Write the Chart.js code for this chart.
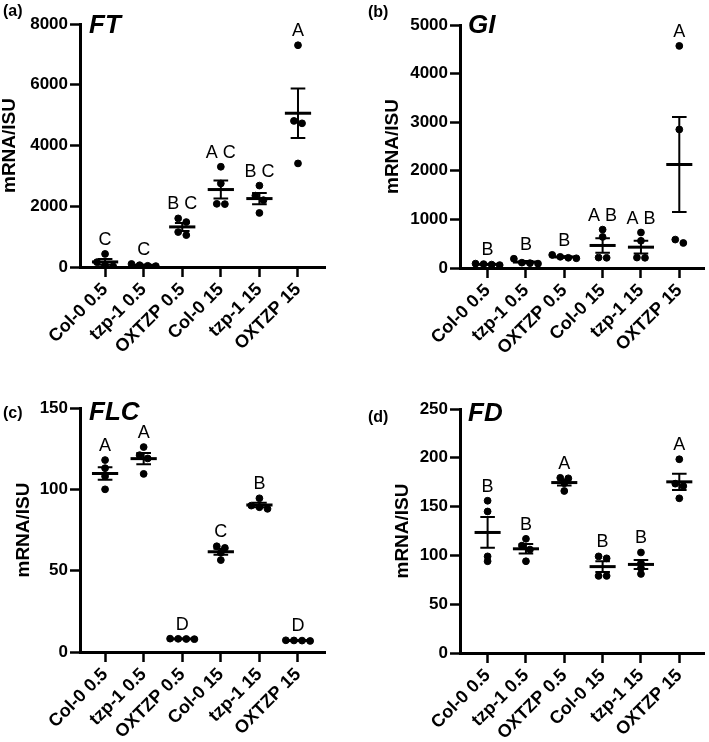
<!DOCTYPE html>
<html>
<head>
<meta charset="utf-8">
<script src="https://cdn.jsdelivr.net/npm/chart.js@4.4.1/dist/chart.umd.min.js"></script>
<style>
  body { margin: 0; background: #fff; }
  #wrap { position: relative; width: 709px; height: 742px; font-family: "Liberation Sans", Arial, sans-serif; color: #000; }
  .panel { position: absolute; width: 354px; height: 371px; }
  .tag { position: absolute; font-weight: bold; font-size: 16px; line-height: 1; }
  .gene { position: absolute; font-weight: bold; font-style: italic; font-size: 26px; line-height: 1; }
</style>
</head>
<body>
<div id="wrap">
  <div class="panel" style="left:0;top:0"><canvas id="chartFT"></canvas></div>
  <div class="panel" style="left:355px;top:0"><canvas id="chartGI"></canvas></div>
  <div class="panel" style="left:0;top:371px"><canvas id="chartFLC"></canvas></div>
  <div class="panel" style="left:355px;top:371px"><canvas id="chartFD"></canvas></div>

  <div class="tag" style="left:3px;top:3px">(a)</div>
  <div class="gene" style="left:89px;top:11px">FT</div>
  <div class="tag" style="left:368px;top:4px">(b)</div>
  <div class="gene" style="left:468px;top:11px">GI</div>
  <div class="tag" style="left:3px;top:405px">(c)</div>
  <div class="gene" style="left:89px;top:398px">FLC</div>
  <div class="tag" style="left:368px;top:409px">(d)</div>
  <div class="gene" style="left:468px;top:399px">FD</div>
</div>

<script>
const groups = ['Col-0 0.5', 'tzp-1 0.5', 'OXTZP 0.5', 'Col-0 15', 'tzp-1 15', 'OXTZP 15'];

// individual replicates per group
const ftValues = [[430, 160, 60, 20], [100, 60, 40, 30], [1600, 1480, 1150, 1050],
                  [3300, 2750, 2080, 2070], [2680, 2350, 2200, 1780], [7300, 4810, 4730, 3410]];
const giValues = [[90, 80, 70, 60], [190, 110, 100, 90], [270, 230, 210, 200],
                  [790, 640, 215, 210], [730, 560, 215, 210], [4570, 2850, 585, 515]];
const flcValues = [[118, 113, 108, 100], [126, 121, 119, 109.5], [8.2, 8.1, 8.0, 7.9],
                   [65, 64, 61, 56.5], [94.5, 90, 89, 88], [7.2, 7.1, 7.0, 6.8]];
const fdValues = [[156, 145, 99, 94], [117, 110, 106, 94], [179.5, 179, 174, 166],
                  [99, 97, 79, 79], [103, 92, 87, 81], [198.5, 173.5, 171, 158.5]];

// significance letters
const ftLetters = ['C', 'C', 'B C', 'A C', 'B C', 'A'];
const giLetters = ['B', 'B', 'B', 'A B', 'A B', 'A'];
const flcLetters = ['A', 'A', 'D', 'C', 'B', 'D'];
const fdLetters = ['B', 'B', 'A', 'B', 'B', 'A'];

// y axis ranges: min, max, step
const ftAxis = [0, 8000, 2000];
const giAxis = [0, 5000, 1000];
const flcAxis = [0, 150, 50];
const fdAxis = [0, 250, 50];

const FONT = '"Liberation Sans", Arial, sans-serif';

function mean(a) {
    return a.reduce((s, v) => s + v, 0) / a.length;
}

function sem(a) {
    const m = mean(a);
    const sd = Math.sqrt(a.reduce((s, v) => s + (v - m) * (v - m), 0) / (a.length - 1));
    return sd / Math.sqrt(a.length);
}

// spread points that would overlap side by side, like a scatter dot plot
function dotPoints(values, yMax) {
    const pts = [];
    const thr = yMax * 0.02;
    values.forEach((vals, i) => {
        const sorted = [...vals].sort((a, b) => b - a);
        let cluster = [sorted[0]];
        const flush = () => {
            cluster.forEach((v, k) => pts.push({ x: i + (k - (cluster.length - 1) / 2) * 0.21, y: v }));
        };
        for (let k = 1; k < sorted.length; k++) {
            if (cluster[cluster.length - 1] - sorted[k] < thr) {
                cluster.push(sorted[k]);
            } else {
                flush();
                cluster = [sorted[k]];
            }
        }
        flush();
    });
    return pts;
}

function summaryPlugin(values, letters) {
    return {
        id: 'summary',
        afterDatasetsDraw(chart) {
            const { ctx, scales: { x, y } } = chart;
            ctx.save();
            ctx.strokeStyle = '#000';
            ctx.fillStyle = '#000';
            values.forEach((vals, i) => {
                const m = mean(vals), s = sem(vals);
                const cx = x.getPixelForValue(i);
                const halfMean = x.getPixelForValue(i + 0.34) - cx;
                const halfCap = x.getPixelForValue(i + 0.19) - cx;
                const ym = y.getPixelForValue(m);
                const yHi = y.getPixelForValue(m + s);
                const yLo = y.getPixelForValue(Math.max(0, m - s));

                ctx.lineWidth = 3;
                ctx.beginPath();
                ctx.moveTo(cx - halfMean, ym);
                ctx.lineTo(cx + halfMean, ym);
                ctx.stroke();

                ctx.lineWidth = 2;
                ctx.beginPath();
                ctx.moveTo(cx, yHi);
                ctx.lineTo(cx, yLo);
                ctx.moveTo(cx - halfCap, yHi);
                ctx.lineTo(cx + halfCap, yHi);
                ctx.moveTo(cx - halfCap, yLo);
                ctx.lineTo(cx + halfCap, yLo);
                ctx.stroke();

                const top = Math.max(...vals, m + s);
                ctx.font = '18px ' + FONT;
                ctx.textAlign = 'center';
                ctx.textBaseline = 'alphabetic';
                ctx.fillText(letters[i], cx, y.getPixelForValue(top) - 9);
            });
            ctx.restore();
        }
    };
}

function loadPanel(id, values, letters, axis, layout) {
    const canvas = document.getElementById(id);
    new Chart(canvas, {
        type: 'scatter',
        data: {
            datasets: [{
                data: dotPoints(values, axis[1]),
                backgroundColor: '#000',
                borderColor: '#000',
                pointRadius: 3.4,
                pointHoverRadius: 3.4
            }]
        },
        options: {
            responsive: true,
            maintainAspectRatio: false,
            animation: false,
            events: [],
            layout: {
                padding: { left: layout.padLeft, top: layout.top, right: layout.padRight, bottom: 0 }
            },
            plugins: {
                legend: { display: false },
                tooltip: { enabled: false }
            },
            scales: {
                x: {
                    type: 'linear',
                    min: layout.xMin,
                    max: layout.xMax,
                    afterBuildTicks: scale => {
                        scale.ticks = groups.map((g, i) => ({ value: i }));
                    },
                    afterFit: scale => {
                        scale.height = layout.xHeight;
                    },
                    border: { display: true, color: '#000', width: 3 },
                    grid: {
                        drawOnChartArea: false,
                        drawTicks: true,
                        tickLength: 10,
                        tickWidth: 2.5,
                        tickColor: '#000'
                    },
                    ticks: {
                        autoSkip: false,
                        maxRotation: 45,
                        minRotation: 45,
                        padding: 2,
                        color: '#000',
                        font: { family: FONT, size: 18, weight: 'bold' },
                        callback: v => groups[v]
                    }
                },
                y: {
                    min: axis[0],
                    max: axis[1],
                    afterFit: scale => {
                        scale.width = layout.yWidth;
                    },
                    border: { display: true, color: '#000', width: 3 },
                    grid: {
                        drawOnChartArea: false,
                        drawTicks: true,
                        tickLength: 10,
                        tickWidth: 2.5,
                        tickColor: '#000'
                    },
                    title: {
                        display: true,
                        text: 'mRNA/ISU',
                        color: '#000',
                        padding: 0,
                        font: { family: FONT, size: 19, weight: 'bold', lineHeight: 1 }
                    },
                    ticks: {
                        stepSize: axis[2],
                        padding: 2,
                        color: '#000',
                        font: { family: FONT, size: 17, weight: 'bold' },
                        callback: v => String(v)
                    }
                }
            }
        },
        plugins: [summaryPlugin(values, letters)]
    });
}

loadPanel('chartFT', ftValues, ftLetters, ftAxis,
    { padLeft: 0, yWidth: 80, top: 24, padRight: 29, xHeight: 104, xMin: -0.65, xMax: 5.7 });
loadPanel('chartGI', giValues, giLetters, giAxis,
    { padLeft: 28, yWidth: 77, top: 25, padRight: 4, xHeight: 103, xMin: -0.72, xMax: 5.66 });
loadPanel('chartFLC', flcValues, flcLetters, flcAxis,
    { padLeft: 14, yWidth: 66, top: 37, padRight: 29, xHeight: 90, xMin: -0.65, xMax: 5.7 });
loadPanel('chartFD', fdValues, fdLetters, fdAxis,
    { padLeft: 38, yWidth: 67, top: 38, padRight: 3, xHeight: 89, xMin: -0.72, xMax: 5.66 });
</script>
</body>
</html>
